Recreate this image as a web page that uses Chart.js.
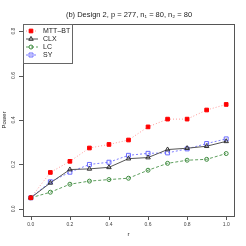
<!DOCTYPE html>
<html>
<head>
<meta charset="utf-8">
<script src="https://cdn.jsdelivr.net/npm/chart.js@4"></script>
<style>
  html, body { margin: 0; padding: 0; background: #fff; }
  #wrap { width: 246px; height: 246px; }
</style>
</head>
<body>
<div id="wrap"><canvas id="powerChart" width="246" height="246"></canvas></div>
<script>
// values
const rValues = [0, 0.1, 0.2, 0.3, 0.4, 0.5, 0.6, 0.7, 0.8, 0.9, 1.0];
const mttbt = [0.05, 0.164, 0.214, 0.274, 0.29, 0.31, 0.369, 0.404, 0.404, 0.445, 0.47];
const clx   = [0.05, 0.117, 0.177, 0.18, 0.187, 0.226, 0.231, 0.267, 0.273, 0.282, 0.304];
const lc    = [0.05, 0.075, 0.111, 0.125, 0.132, 0.138, 0.174, 0.205, 0.219, 0.223, 0.249];
const sy    = [0.05, 0.122, 0.165, 0.2, 0.21, 0.241, 0.25, 0.252, 0.27, 0.294, 0.315];

const xTicks = [0, 0.2, 0.4, 0.6, 0.8, 1.0];
const yTicks = [0, 0.2, 0.4, 0.6, 0.8];

const titleText = '(b) Design 2, p = 277, n\u2081 = 80, n\u2082 = 80';

const series = [
    { label: 'MTT\u2013BT', data: mttbt, line: '#ff9a9a', point: '#ff0000', fill: '#ff0000', style: 'rect', radius: 2.6, dash: [1, 2] },
    { label: 'CLX', data: clx, line: '#555555', point: '#333333', fill: 'rgba(0,0,0,0)', style: 'triangle', radius: 2.6, dash: [] },
    { label: 'LC', data: lc, line: '#5f9f5f', point: '#3d8a3d', fill: 'rgba(0,0,0,0)', style: 'circle', radius: 2, dash: [3, 2] },
    { label: 'SY', data: sy, line: '#7d7dff', point: '#6b6bff', fill: 'rgba(0,0,0,0)', style: 'rect', radius: 2.8, dash: [2, 2] },
];

const font = 'Liberation Sans, Arial, sans-serif';

// frame, tick labels, titles and legend drawn R-style
const rDecor = {
    id: 'rDecor',
    afterDraw(chart) {
        const ctx = chart.ctx;
        const a = chart.chartArea;
        const xs = chart.scales.x;
        const ys = chart.scales.y;
        ctx.save();
        ctx.strokeStyle = '#555';
        ctx.lineWidth = 1;
        ctx.strokeRect(a.left + 0.5, a.top + 0.5, a.right - a.left, a.bottom - a.top);

        ctx.fillStyle = '#444';
        ctx.font = '5px ' + font;
        ctx.textAlign = 'center';
        ctx.textBaseline = 'middle';
        for (let t of xTicks) {
            let px = xs.getPixelForValue(t);
            ctx.beginPath();
            ctx.moveTo(Math.round(px) + 0.5, a.bottom);
            ctx.lineTo(Math.round(px) + 0.5, a.bottom + 4);
            ctx.stroke();
            ctx.fillText(t.toFixed(1), px, a.bottom + 9);
        }
        for (let t of yTicks) {
            let py = ys.getPixelForValue(t);
            ctx.beginPath();
            ctx.moveTo(a.left - 4, Math.round(py) + 0.5);
            ctx.lineTo(a.left, Math.round(py) + 0.5);
            ctx.stroke();
            ctx.save();
            ctx.translate(a.left - 9, py);
            ctx.rotate(-Math.PI / 2);
            ctx.fillText(t.toFixed(1), 0, 0);
            ctx.restore();
        }

        ctx.fillStyle = '#222';
        ctx.font = '6px ' + font;
        ctx.fillText('r', xs.getPixelForValue(0.5), a.bottom + 18);
        ctx.save();
        ctx.translate(4, (a.top + a.bottom) / 2);
        ctx.rotate(-Math.PI / 2);
        ctx.fillText('Power', 0, 0);
        ctx.restore();

        ctx.font = '7.5px ' + font;
        ctx.fillText(titleText, 129, 15);

        // legend box
        ctx.fillStyle = '#fff';
        ctx.fillRect(a.left + 1, a.top + 1, 49, 39);
        ctx.strokeStyle = '#666';
        ctx.strokeRect(a.left + 0.5, a.top + 0.5, 49, 39);
        ctx.textAlign = 'left';
        ctx.font = '7px ' + font;
        series.forEach((s, i) => {
            let y = a.top + 7 + i * 8;
            ctx.strokeStyle = s.line;
            ctx.setLineDash(s.dash);
            ctx.beginPath();
            ctx.moveTo(a.left + 3, y);
            ctx.lineTo(a.left + 15, y);
            ctx.stroke();
            ctx.setLineDash([]);
            ctx.strokeStyle = s.point;
            ctx.fillStyle = s.fill;
            Chart.helpers.drawPoint(ctx, { pointStyle: s.style, radius: s.radius, borderWidth: 1 }, a.left + 8, y);
            ctx.fillStyle = '#222';
            ctx.fillText(s.label, a.left + 20, y + 0.5);
        });
        ctx.restore();
    }
};

const powerChart = new Chart(document.getElementById('powerChart'), {
    type: 'line',
    data: {
        datasets: series.map(s => ({
            label: s.label,
            data: rValues.map((r, i) => ({ x: r, y: s.data[i] })),
            borderColor: s.line,
            borderWidth: 1,
            borderDash: s.dash,
            pointStyle: s.style,
            pointRadius: s.radius,
            pointBorderColor: s.point,
            pointBackgroundColor: s.fill,
            pointBorderWidth: 1,
            tension: 0,
        })),
    },
    options: {
        responsive: false,
        animation: false,
        devicePixelRatio: 1,
        layout: { padding: { left: 0, right: 12, top: 24, bottom: 0 } },
        plugins: {
            legend: { display: false },
            title: { display: false },
            tooltip: { enabled: false },
        },
        scales: {
            x: {
                type: 'linear',
                min: -0.04,
                max: 1.04,
                grid: { display: false },
                border: { display: false },
                ticks: { display: false },
                afterFit: (scale) => { scale.height = 30; },
            },
            y: {
                min: -0.032,
                max: 0.832,
                grid: { display: false },
                border: { display: false },
                ticks: { display: false },
                afterFit: (scale) => { scale.width = 23; },
            },
        },
    },
    plugins: [rDecor],
});
</script>
</body>
</html>
